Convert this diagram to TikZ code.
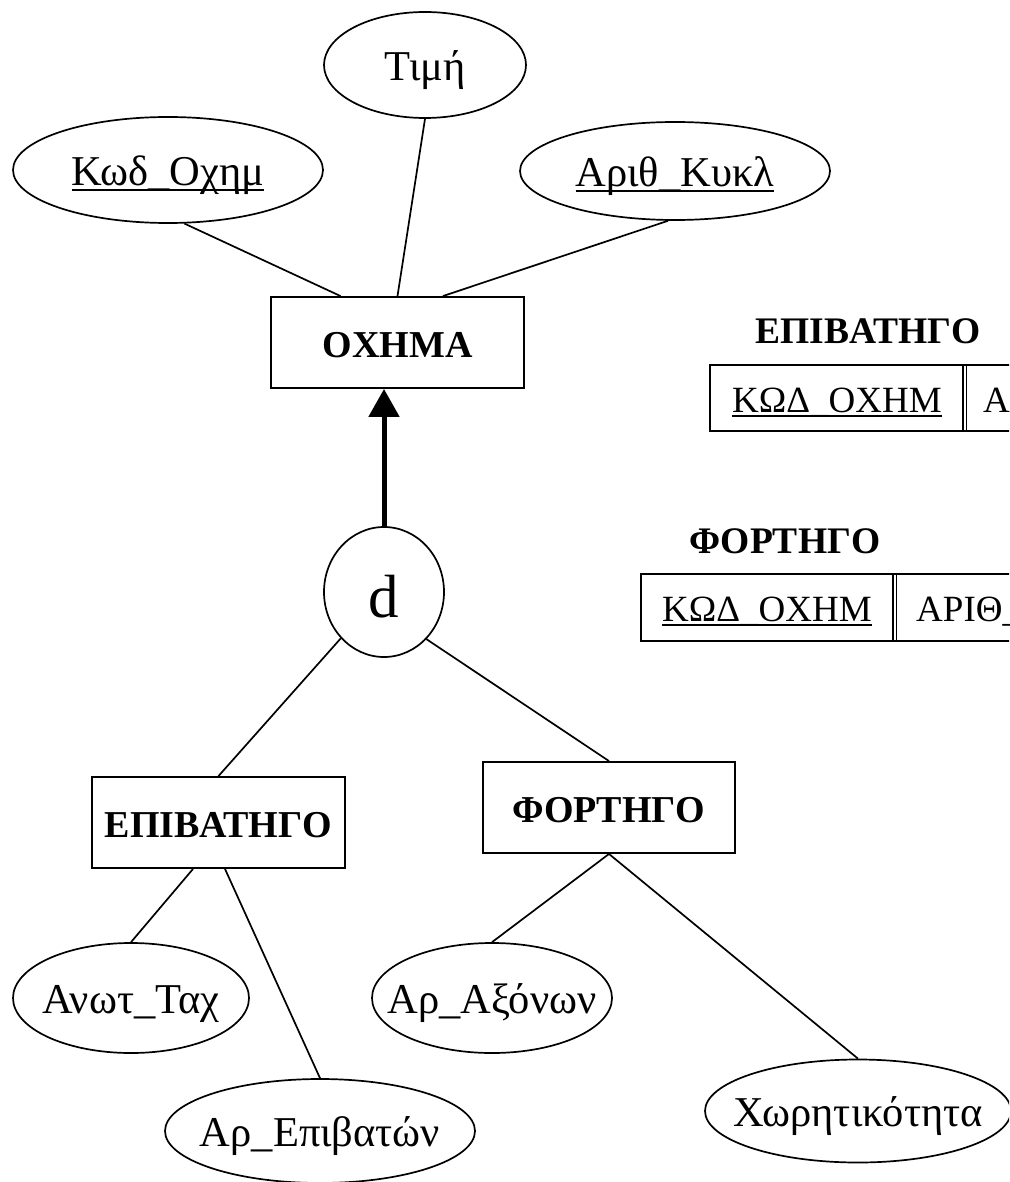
\documentclass[tikz,border=0pt]{standalone}
\usepackage{fontspec}
\setmainfont{Liberation Serif}
\usetikzlibrary{shapes.geometric,calc,arrows.meta}
% zero-width text so the shape keeps its own size
\newcommand{\zw}[1]{\makebox[0pt][c]{#1}}
% key attribute: underlined text
\newcommand{\keyattr}[1]{\setbox0\hbox{#1}\rlap{\vrule height -0.09em depth 0.14em width \wd0}\box0}
\begin{document}
\begin{tikzpicture}[x=1pt,y=-1pt,
  attr/.style={draw, ellipse, line width=1.7pt, inner sep=0pt,
    text height=31pt, text depth=0pt, font=\fontsize{42.5}{46}\selectfont},
  entity/.style={draw, rectangle, line width=1.9pt, minimum width=253pt,
    minimum height=91pt, inner sep=0pt, text height=29pt, text depth=0pt,
    font=\fontsize{38}{41}\selectfont\bfseries},
  link/.style={line width=1.7pt},
  tbl/.style={line width=1.9pt},
  cell/.style={anchor=base west, inner sep=0pt, font=\fontsize{37}{40}\selectfont},
  ttl/.style={anchor=base, inner sep=0pt, font=\fontsize{37.5}{40}\selectfont\bfseries},
]
\useasboundingbox (0,0) rectangle (1009,1182);
\clip (0,0) rectangle (1009,1182);

% superclass and its attributes
\node[entity] (ochema) at (397.5,342.5) {ΟΧΗΜΑ};
\node[attr, minimum width=202pt, minimum height=106pt] (timi) at (425,65) {\zw{Τιμή}};
\node[attr, minimum width=310pt, minimum height=106pt] (kod) at (168,170) {\zw{\keyattr{Κωδ\_Οχημ}}};
\node[attr, minimum width=310pt, minimum height=98pt] (arith) at (675,171) {\zw{\keyattr{Αριθ\_Κυκλ}}};

\draw[link] (kod.-73) -- ($(ochema.north)+(-57,0)$);
\draw[link] (timi.south) -- (ochema.north);
\draw[link] (arith.-98) -- ($(ochema.north)+(45.5,0)$);

% disjoint specialisation
\node[draw, ellipse, line width=1.7pt, inner sep=0pt, minimum width=120pt,
  minimum height=130pt, text height=50pt, text depth=0pt,
  font=\fontsize{61}{64}\selectfont] (d) at (384,592) {d};
\draw[line width=5pt, -{Triangle[width=30pt,length=28pt]}] (d.north) -- (d.north |- ochema.south);

% subclasses
\node[entity] (epib) at (218.5,822.5) {ΕΠΙΒΑΤΗΓΟ};
\node[entity, minimum width=252pt] (fort) at (609,807.5) {ΦΟΡΤΗΓΟ};
\draw[link] (d.227) -- (epib.north);
\draw[link] (d.-48) -- (fort.north);

% subclass attributes
\node[attr, minimum width=236pt, minimum height=110pt] (anot) at (131,998) {\zw{Ανωτ\_Ταχ}};
\node[attr, minimum width=310pt, minimum height=104pt] (arepib) at (320,1131) {\zw{Αρ\_Επιβατών}};
\node[attr, minimum width=240pt, minimum height=110pt] (araxon) at (492,998) {\zw{Αρ\_Αξόνων}};
\node[attr, minimum width=306pt, minimum height=103pt] (xor) at (858,1111) {\zw{Χωρητικότητα}};

\draw[link] ($(epib.south)+(-25.5,0)$) -- (anot.north);
\draw[link] ($(epib.south)+(6.5,0)$) -- (arepib.north);
\draw[link] (fort.south) -- (araxon.north);
\draw[link] (fort.south) -- (xor.north);

% relation schemas
\node[ttl] (t1) at (868,343) {ΕΠΙΒΑΤΗΓΟ};
\draw[tbl] (710,365) rectangle (1040,431);
\draw[tbl] (963,365) -- (963,431) (966.5,365) -- (966.5,431);
\node[cell] (t1a) at (732,412) {\keyattr{ΚΩΔ\_ΟΧΗΜ}};
\node[cell] (t1b) at (983,412) {ΑΡΙΘ\_ΚΥΚΛ};

\node[ttl] (t2) at (785,553) {ΦΟΡΤΗΓΟ};
\draw[tbl] (641,574) rectangle (1040,641);
\draw[tbl] (893,574) -- (893,641) (896.5,574) -- (896.5,641);
\node[cell] (t2a) at (662,621) {\keyattr{ΚΩΔ\_ΟΧΗΜ}};
\node[cell] (t2b) at (916,621) {ΑΡΙΘ\_ΚΥΚΛ};
\end{tikzpicture}
\end{document}
